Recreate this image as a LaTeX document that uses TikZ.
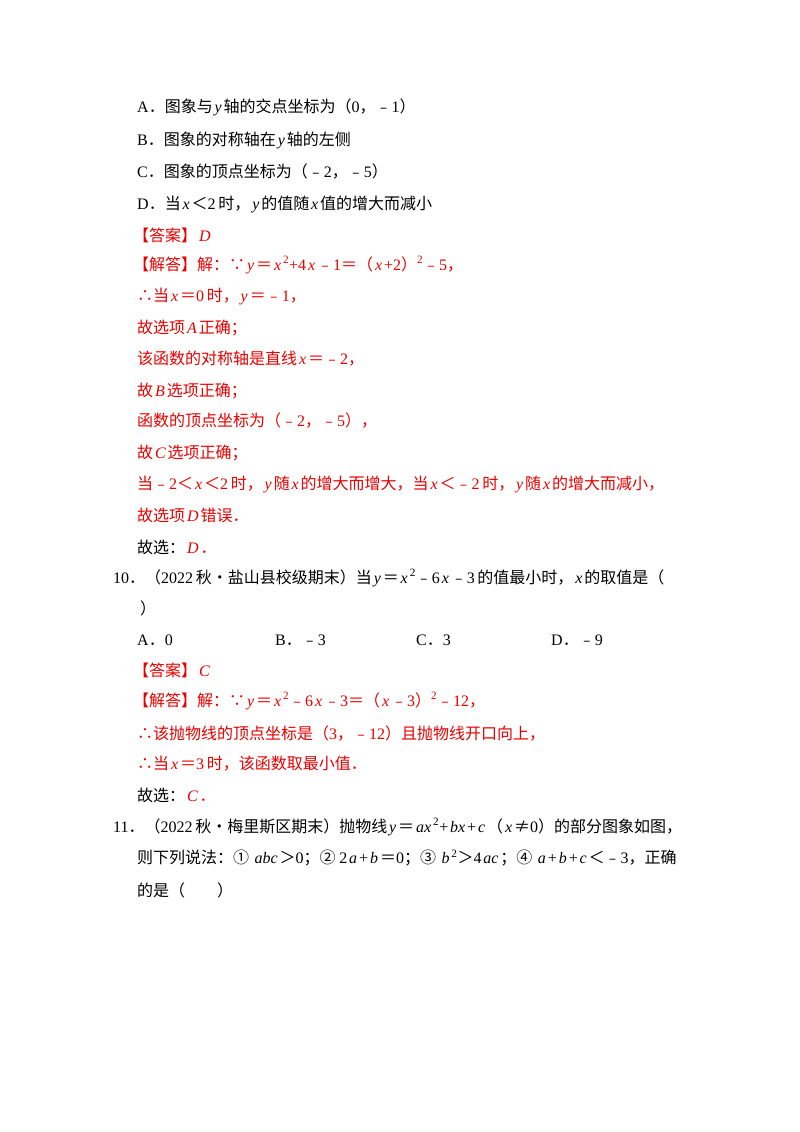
\documentclass[tikz,border=0pt]{standalone}
\usepackage{fontspec}
\setmainfont{Noto Sans CJK SC}
\newfontfamily\lat{Liberation Serif}
\newcommand\mv[1]{\hspace{0.12em}{\lat\itshape #1}\hspace{0.12em}}
\newcommand\nm[1]{{\lat #1}}
\definecolor{ans}{RGB}{230,0,0}
\begin{document}
\begin{tikzpicture}[x=1pt,y=-1pt,
  ln/.style={anchor=west,inner sep=0pt,font=\fontsize{16}{19}\selectfont},
  rd/.style={ln,text=ans}]
\useasboundingbox (0,0) rectangle (800,1132);
\fill[white] (0,0) rectangle (800,1132);
\node[ln] (l1) at (137,107) {\nm{A}．图象与\mv{y}轴的交点坐标为（\nm{0}，﹣\nm{1}）};
\node[ln] (l2) at (137,140) {\nm{B}．图象的对称轴在\mv{y}轴的左侧};
\node[ln] (l3) at (137,172) {\nm{C}．图象的顶点坐标为（﹣\nm{2}，﹣\nm{5}）};
\node[ln] (l4) at (137,204) {\nm{D}．当\mv{x}＜\nm{2}\,时，\mv{y}的值随\mv{x}值的增大而减小};
\node[rd] (l5) at (133,235) {【答案】\mv{D}};
\node[rd] (l6) at (133,265) {【解答】解：∵\mv{y}＝\mv{x}\textsuperscript{\nm{2}}\nm{+4}\mv{x}﹣\nm{1}＝（\mv{x}\nm{+2}）\textsuperscript{\nm{2}}﹣\nm{5}，};
\node[rd] (l7) at (137,297) {∴当\mv{x}＝\nm{0}\,时，\mv{y}＝﹣\nm{1}，};
\node[rd] (l8) at (137,328) {故选项\mv{A}正确；};
\node[rd] (l9) at (137,359) {该函数的对称轴是直线\mv{x}＝﹣\nm{2}，};
\node[rd] (l10) at (137,391) {故\mv{B}选项正确；};
\node[rd] (l11) at (137,421) {函数的顶点坐标为（﹣\nm{2}，﹣\nm{5}），};
\node[rd] (l12) at (137,453) {故\mv{C}选项正确；};
\node[rd] (l13) at (137,484) {当﹣\nm{2}＜\mv{x}＜\nm{2}\,时，\mv{y}随\mv{x}的增大而增大，当\mv{x}＜﹣\nm{2}\,时，\mv{y}随\mv{x}的增大而减小，};
\node[rd] (l14) at (137,515) {故选项\mv{D}错误．};
\node[ln] (l15) at (137,547) {故选：\textcolor{ans}{\mv{D}．}};
\node[ln] (l16) at (113,578) {\nm{10}．（\nm{2022}\,秋•盐山县校级期末）当\mv{y}＝\mv{x}\textsuperscript{\nm{2}}﹣\nm{6}\mv{x}﹣\nm{3}\,的值最小时，\mv{x}的取值是（};
\node[ln] (l17) at (140,608) {）};
\node[ln] (oA) at (137,640) {\nm{A}．\nm{0}};
\node[ln] (oB) at (275,640) {\nm{B}．﹣\nm{3}};
\node[ln] (oC) at (416,640) {\nm{C}．\nm{3}};
\node[ln] (oD) at (551,640) {\nm{D}．﹣\nm{9}};
\node[rd] (l19) at (133,670) {【答案】\mv{C}};
\node[rd] (l20) at (133,701) {【解答】解：∵\mv{y}＝\mv{x}\textsuperscript{\nm{2}}﹣\nm{6}\mv{x}﹣\nm{3}＝（\mv{x}﹣\nm{3}）\textsuperscript{\nm{2}}﹣\nm{12}，};
\node[rd] (l21) at (137,733) {∴该抛物线的顶点坐标是（\nm{3}，﹣\nm{12}）且抛物线开口向上，};
\node[rd] (l22) at (137,764) {∴当\mv{x}＝\nm{3}\,时，该函数取最小值．};
\node[ln] (l23) at (137,795) {故选：\textcolor{ans}{\mv{C}．}};
\node[ln] (l24) at (113,827) {\nm{11}．（\nm{2022}\,秋•梅里斯区期末）抛物线\mv{y}＝\mv{ax}\textsuperscript{\nm{2}}\nm{+}\mv{bx}\nm{+}\mv{c}（\mv{x}≠\nm{0}）的部分图象如图，};
\node[ln] (l25) at (137,858) {则下列说法：① \mv{abc}＞\nm{0}；② \nm{2}\mv{a}\nm{+}\mv{b}＝\nm{0}；③ \mv{b}\textsuperscript{\nm{2}}＞\nm{4}\mv{ac}；④ \mv{a}\nm{+}\mv{b}\nm{+}\mv{c}＜﹣\nm{3}，正确};
\node[ln] (l26) at (137,890) {的是（\hspace{2em}）};
\end{tikzpicture}
\end{document}
